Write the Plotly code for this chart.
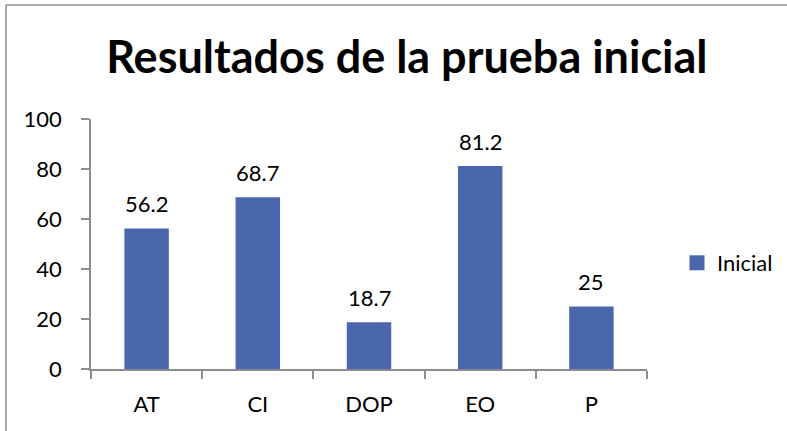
import plotly.graph_objects as go

categories = ["AT", "CI", "DOP", "EO", "P"]
values = [56.2, 68.7, 18.7, 81.2, 25]
labels = ["56.2", "68.7", "18.7", "81.2", "25"]
series_name = "Inicial"
y_ticks = [0, 20, 40, 60, 80, 100]
bar_color = "#4a67ad"

W, H = 787, 431
L, R, T, B = 91, 140, 119, 62
pw, ph = W - L - R, H - T - B

def px(x):
    return (x - L) / pw

def py(y):
    return (H - B - y) / ph

fig = go.Figure()
fig.add_trace(go.Bar(
    x=categories, y=values, name=series_name, showlegend=False,
    marker=dict(color=bar_color, line=dict(width=0)),
    width=0.4,
    cliponaxis=False,
))
fig.add_trace(go.Scatter(
    x=[None], y=[None], mode="markers", name=series_name, showlegend=True,
    marker=dict(symbol="square", size=15, color=bar_color),
))

for c, v, t in zip(categories, values, labels):
    fig.add_annotation(x=c, y=v, text=t, showarrow=False, yanchor="middle", yshift=25,
                       font=dict(size=22, family="Lato", color="#000000"))

fig.update_layout(
    width=W, height=H,
    margin=dict(l=L, r=R, t=T, b=B, autoexpand=False),
    paper_bgcolor="white", plot_bgcolor="white",
    font=dict(family="Lato", size=22, color="#000000"),
    title=dict(text="<b>Resultados de la prueba inicial</b>", x=0.517, xanchor="center",
               y=1 - 57 / H, yanchor="middle",
               font=dict(size=45, family="Lato", color="#000000")),
    showlegend=True,
    legend=dict(x=px(677), y=py(263), xanchor="left", yanchor="middle",
                font=dict(size=22), itemwidth=30, bgcolor="rgba(0,0,0,0)"),
    bargap=0.6,
    xaxis=dict(showline=True, linecolor="#8c8c8c", linewidth=1.5,
               ticks="outside", ticklen=8, tickcolor="#8c8c8c", tickwidth=1.5,
               tickson="boundaries", showgrid=False, ticklabelstandoff=15),
    yaxis=dict(range=[0, 100], tickvals=y_ticks, showline=True, linecolor="#8c8c8c",
               linewidth=1.5, ticks="outside", ticklen=8, tickcolor="#8c8c8c", tickwidth=1.5,
               showgrid=False, zeroline=False, ticklabelstandoff=15),
    shapes=[
        dict(type="line", xref="paper", yref="paper", x0=px(6), x1=px(6), y0=py(5), y1=py(431),
             line=dict(color="#8c8c8c", width=1.5)),
        dict(type="line", xref="paper", yref="paper", x0=px(6), x1=px(787), y0=py(5), y1=py(5),
             line=dict(color="#8c8c8c", width=1.5)),
    ],
)

fig.write_html("out.html", config={"displayModeBar": False},
               post_script="document.body.style.margin='0';document.body.style.overflow='hidden';")
